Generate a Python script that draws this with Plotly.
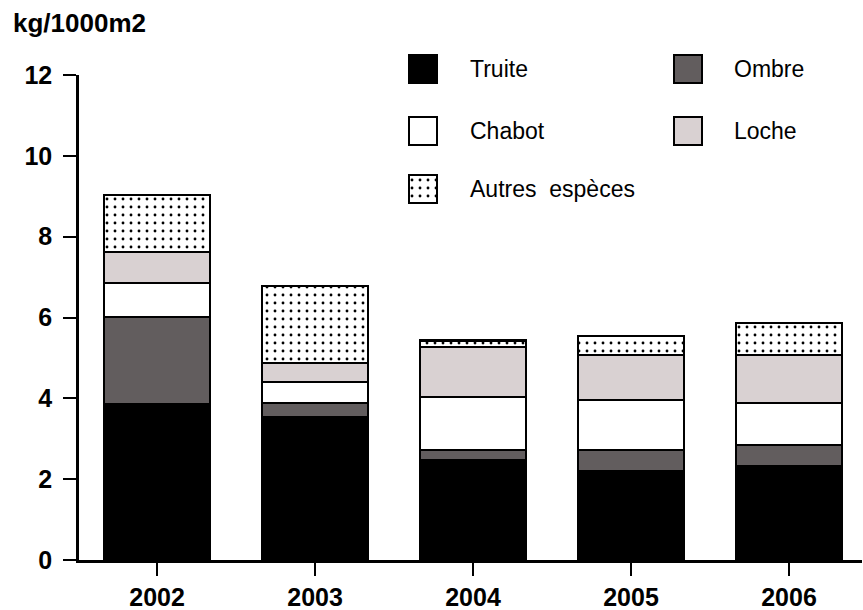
import plotly.graph_objects as go

# ---------------- data ----------------
years = ["2002", "2003", "2004", "2005", "2006"]
series_names = ["Truite", "Ombre", "Chabot", "Loche", "Autres\u00a0 espèces"]
truite = [3.86, 3.53, 2.48, 2.21, 2.33]
ombre = [2.16, 0.36, 0.24, 0.51, 0.52]
chabot = [0.84, 0.52, 1.31, 1.24, 1.04]
loche = [0.77, 0.46, 1.25, 1.11, 1.18]
autres = [1.40, 1.91, 0.15, 0.48, 0.80]
y_ticks = [0, 2, 4, 6, 8, 10, 12]
y_title = "kg/1000m2"

series_values = [truite, ombre, chabot, loche, autres]

# ---------------- styles ----------------
W, H = 863, 610
FONT = "Liberation Sans, Arial, Helvetica, sans-serif"
fill_colors = ["#000000", "#625d5e", "#ffffff", "#d9d1d2", "#ffffff"]
patterns = [None, None, None, None,
            dict(shape=".", fgcolor="#000000", bgcolor="#ffffff", size=8, solidity=0.1)]

# plot area in pixels
p_left, p_right, p_top, p_bottom = 79, 862, 75, 560
x_range = [-0.494, 4.462]

fig = go.Figure()

xpos = list(range(len(years)))
for name, vals, col, pat in zip(series_names, series_values, fill_colors, patterns):
    marker = dict(color=col, line=dict(color="#000000", width=2.2))
    if pat:
        marker["pattern"] = pat
    fig.add_trace(go.Bar(x=xpos, y=vals, name=name, width=0.67, marker=marker,
                         showlegend=False, hoverinfo="name+y", xaxis="x", yaxis="y"))

# ---------------- custom legend (pixel axes x2/y2) ----------------
leg_col_sq = [423, 688]
leg_col_txt = [468, 732]
leg_row = [69, 131, 189]
leg_slots = [(0, 0), (1, 0), (0, 1), (1, 1), (0, 2)]
sq = 28
annotations = []
for name, col, pat, (c, r) in zip(series_names, fill_colors, patterns, leg_slots):
    marker = dict(color=col, line=dict(color="#000000", width=2.2))
    if pat:
        marker["pattern"] = pat
    fig.add_trace(go.Bar(x=[leg_col_sq[c]], y=[sq], base=[leg_row[r] - sq / 2], width=sq,
                         marker=marker, showlegend=False, hoverinfo="skip",
                         xaxis="x2", yaxis="y2"))
    annotations.append(dict(x=leg_col_txt[c], y=leg_row[r], xref="x2", yref="y2",
                            text=name, showarrow=False, xanchor="left", yanchor="middle",
                            font=dict(family=FONT, size=23, color="#000000")))

annotations.append(dict(x=11 / W, y=1 - 23 / H, xref="paper", yref="paper",
                        text=y_title, showarrow=False, xanchor="left", yanchor="middle",
                        font=dict(family=FONT, size=26, color="#000000", weight="bold")))

tick_font = dict(family=FONT, size=25, color="#000000", weight="bold")

fig.update_layout(
    width=W, height=H,
    margin=dict(l=0, r=0, t=0, b=0),
    paper_bgcolor="#ffffff", plot_bgcolor="rgba(0,0,0,0)",
    template="none",
    barmode="stack",
    showlegend=False,
    font=dict(family=FONT, color="#000000"),
    annotations=annotations,
    xaxis=dict(domain=[p_left / W, p_right / W], range=x_range, anchor="y",
               tickmode="array", tickvals=xpos, ticktext=years,
               ticks="outside", ticklen=13, tickwidth=2, tickcolor="#000000",
               showline=True, linewidth=2.5, linecolor="#000000",
               showgrid=False, zeroline=False, automargin=False, fixedrange=True,
               tickfont=tick_font),
    yaxis=dict(domain=[1 - p_bottom / H, 1 - p_top / H], range=[0, 12], anchor="x",
               tickmode="array", tickvals=y_ticks, ticktext=[str(v) for v in y_ticks],
               ticks="outside", ticklen=13, tickwidth=2, tickcolor="#000000",
               showline=True, linewidth=2.5, linecolor="#000000",
               showgrid=False, zeroline=False, automargin=False, fixedrange=True,
               ticklabelstandoff=6, tickfont=tick_font),
    xaxis2=dict(domain=[0, 1], range=[0, W], anchor="y2", visible=False, fixedrange=True),
    yaxis2=dict(domain=[0, 1], range=[H, 0], anchor="x2", visible=False, fixedrange=True),
)

fig.write_html("out.html", config={"displayModeBar": False},
               post_script="document.body.style.margin='0';document.body.style.overflow='hidden';")
